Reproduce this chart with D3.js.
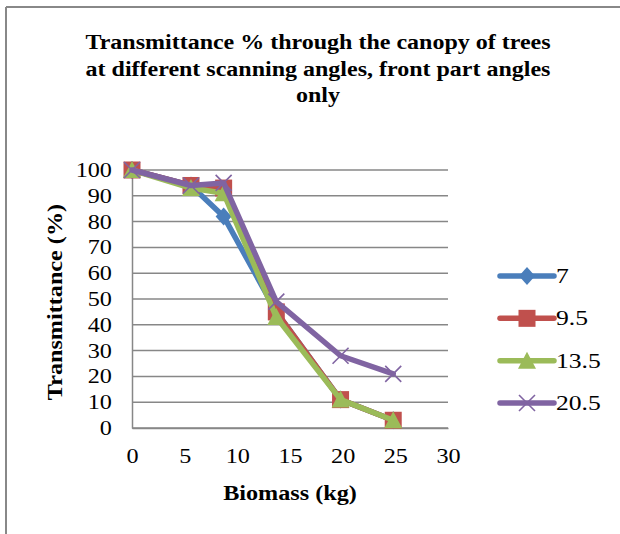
<!DOCTYPE html>
<html>
<head>
<meta charset="utf-8">
<script src="https://cdn.jsdelivr.net/npm/d3@7"></script>
<style>
  body { margin: 0; background: #fff; }
  text { font-family: "Liberation Serif", "Times New Roman", serif; fill: #000; }
</style>
</head>
<body>
<script>
// values
const biomass = [0, 5.6, 8.7, 13.7, 19.8, 24.8];
const angles = ['7', '9.5', '13.5', '20.5'];
const series7 = [100, 94, 82, 45, 11, 3];
const series95 = [100, 94, 93, 45, 11, 3];
const series135 = [100, 93, 91, 43, 11, 3];
const series205 = [100, 94, 95, 49, 28, 21];
const xTicks = [0, 5, 10, 15, 20, 25, 30];
const yTicks = [0, 10, 20, 30, 40, 50, 60, 70, 80, 90, 100];
const titleLines = ['Transmittance % through the canopy of trees', 'at different scanning angles, front part angles', 'only'];

const colors = ['#4a7ebb', '#c0504d', '#9bbb59', '#8064a2'];
const markers = ['diamond', 'square', 'triangle', 'cross'];
const allSeries = [series7, series95, series135, series205];

const width = 620;
const height = 534;
// the source image is stretched sideways, so text is widened a bit
const stretch = 1.18;
const fontSize = '20.5px';

const svg = d3.select('body').append('svg')
  .attr('width', width)
  .attr('height', height);

// outer frame: only top and left edges show
svg.append('line')
  .attr('x1', 6).attr('y1', 7).attr('x2', width).attr('y2', 7)
  .style('stroke', '#888').style('stroke-width', 2);
svg.append('line')
  .attr('x1', 6).attr('y1', 7).attr('x2', 6).attr('y2', height)
  .style('stroke', '#888').style('stroke-width', 2);

const x = d3.scaleLinear().domain([0, 30]).range([132, 448]);
const y = d3.scaleLinear().domain([0, 100]).range([428, 170]);

// gridlines
svg.append('g')
  .selectAll('line')
  .data(yTicks)
  .enter().append('line')
  .attr('x1', x(0)).attr('x2', x(30))
  .attr('y1', d => y(d)).attr('y2', d => y(d))
  .style('stroke', '#878787')
  .style('stroke-width', 1.5);

// axes
const yAxis = svg.append('g')
  .attr('transform', `translate(${x(0)},0)`)
  .call(d3.axisLeft(y).tickValues(yTicks).tickSize(0).tickPadding(17));
const xAxis = svg.append('g')
  .attr('transform', `translate(0,${y(0)})`)
  .call(d3.axisBottom(x).tickValues(xTicks).tickSize(0).tickPadding(20));

[xAxis, yAxis].forEach(ax => {
  ax.select('.domain').style('stroke', '#878787').style('stroke-width', 1.5);
  ax.selectAll('text')
    .attr('transform', `scale(${stretch},1)`)
    .style('font-family', '"Liberation Serif", serif')
    .style('font-size', fontSize)
    .style('fill', '#000');
});

// title
svg.append('g')
  .selectAll('text')
  .data(titleLines)
  .enter().append('text')
  .attr('transform', (d, i) => `translate(318,${49 + i * 26.5}) scale(1.2,1)`)
  .attr('text-anchor', 'middle')
  .style('font-size', '20px')
  .style('font-weight', 'bold')
  .text(d => d);

svg.append('text')
  .attr('transform', `translate(290,500) scale(${stretch},1)`)
  .attr('text-anchor', 'middle')
  .style('font-size', fontSize)
  .style('font-weight', 'bold')
  .text('Biomass (kg)');

svg.append('text')
  .attr('transform', `translate(62,302) rotate(-90) scale(${stretch},1)`)
  .attr('text-anchor', 'middle')
  .style('font-size', fontSize)
  .style('font-weight', 'bold')
  .text('Transmittance (%)');

// draws a marker of the given kind centred on cx, cy
const drawMarker = function (g, kind, cx, cy, color) {
  if (kind === 'diamond') {
    g.append('path')
      .attr('d', `M${cx},${cy - 9}L${cx + 8},${cy}L${cx},${cy + 9}L${cx - 8},${cy}Z`)
      .style('fill', color);
  } else if (kind === 'square') {
    g.append('rect')
      .attr('x', cx - 8.5).attr('y', cy - 8.5)
      .attr('width', 17).attr('height', 17)
      .style('fill', color);
  } else if (kind === 'triangle') {
    g.append('path')
      .attr('d', `M${cx},${cy - 9}L${cx + 9},${cy + 8}L${cx - 9},${cy + 8}Z`)
      .style('fill', color);
  } else {
    g.append('path')
      .attr('d', `M${cx - 8},${cy - 8}L${cx + 8},${cy + 8}M${cx + 8},${cy - 8}L${cx - 8},${cy + 8}`)
      .style('stroke', color)
      .style('stroke-width', 1.6)
      .style('fill', 'none');
  }
};

const line = d3.line()
  .x((d, i) => x(biomass[i]))
  .y(d => y(d));

allSeries.forEach((values, s) => {
  const g = svg.append('g');
  g.append('path')
    .datum(values)
    .attr('d', line)
    .style('fill', 'none')
    .style('stroke', colors[s])
    .style('stroke-width', 5.5)
    .style('stroke-linejoin', 'round')
    .style('stroke-linecap', 'round');
  values.forEach((v, i) => drawMarker(g, markers[s], x(biomass[i]), y(v), colors[s]));
});

// legend
const legendY = d3.scalePoint().domain(angles).range([276, 403]);
angles.forEach((name, s) => {
  const g = svg.append('g');
  const ly = legendY(name);
  g.append('line')
    .attr('x1', 500).attr('x2', 554)
    .attr('y1', ly).attr('y2', ly)
    .style('stroke', colors[s])
    .style('stroke-width', 5.5)
    .style('stroke-linecap', 'round');
  drawMarker(g, markers[s], 527, ly, colors[s]);
  g.append('text')
    .attr('transform', `translate(556,${ly + 7}) scale(1.25,1)`)
    .style('font-size', fontSize)
    .text(name);
});
</script>
</body>
</html>
